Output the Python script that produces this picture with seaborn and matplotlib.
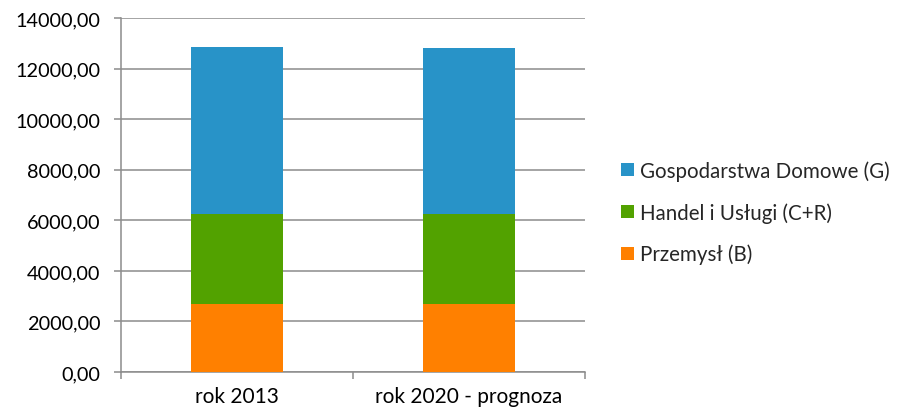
import matplotlib
matplotlib.use("Agg")
import matplotlib.pyplot as plt
import matplotlib.patches as mpatches
from matplotlib.ticker import FixedLocator, FuncFormatter
import numpy as np
import pandas as pd
import seaborn as sns

# Energy demand by sector (stacked)
categories = ["rok 2013", "rok 2020 - prognoza"]
przemysl = [2690, 2690]
handel = [3570, 3570]
gospodarstwa = [6590, 6570]

series_names = ["Gospodarstwa Domowe (G)", "Handel i Usługi (C+R)", "Przemysł (B)"]
colors = {"Gospodarstwa Domowe (G)": "#2893C8",
          "Handel i Usługi (C+R)": "#52A200",
          "Przemysł (B)": "#FF8000"}

sns.set_theme(style="white")
plt.rcParams["font.family"] = ["Lato", "DejaVu Sans"]

fig = plt.figure(figsize=(8.99, 4.14), dpi=100)
ax = fig.add_axes([0.1346, 0.099, 0.5161, 0.8545])

# cumulative heights, drawn from the tallest layer down
cum1 = np.array(przemysl)
cum2 = cum1 + np.array(handel)
cum3 = cum2 + np.array(gospodarstwa)
layers = [("Gospodarstwa Domowe (G)", cum3),
          ("Handel i Usługi (C+R)", cum2),
          ("Przemysł (B)", cum1)]
for name, vals in layers:
    df = pd.DataFrame({"kat": categories, "val": vals})
    sns.barplot(data=df, x="kat", y="val", color=colors[name], width=0.4,
                saturation=1, ax=ax, zorder=3, edgecolor="none")

ax.set_ylim(0, 14000)
ax.set_xlim(-0.5, 1.5)
ax.set_xlabel("")
ax.set_ylabel("")

grid_c = "#8C8C8C"
ax.yaxis.set_major_locator(FixedLocator(np.arange(0, 14001, 2000)))
ax.yaxis.set_major_formatter(FuncFormatter(lambda v, p: f"{v:.2f}".replace(".", ",")))
ax.grid(axis="y", color=grid_c, linewidth=1.1, zorder=0)
ax.set_axisbelow(True)

for s in ["top", "right"]:
    ax.spines[s].set_visible(False)
for s in ["left", "bottom"]:
    ax.spines[s].set_color(grid_c)
    ax.spines[s].set_linewidth(1.1)

ax.tick_params(axis="y", which="major", left=True, length=5, width=1.1,
               color=grid_c, labelsize=14.3, labelcolor="#000000", pad=10)
ax.set_xticks([0, 1])
ax.set_xticklabels(categories)
ax.xaxis.set_minor_locator(FixedLocator([-0.5, 0.5, 1.5]))
ax.tick_params(axis="x", which="major", bottom=False, length=0,
               labelsize=15, labelcolor="#000000", pad=10)
ax.tick_params(axis="x", which="minor", bottom=True, length=5, width=1.1,
               color=grid_c)

handles = [mpatches.Patch(facecolor=colors[n], edgecolor="none", label=n)
           for n in series_names]
fig.legend(handles=handles, loc="center left", bbox_to_anchor=(0.6908, 0.4845),
           frameon=False, fontsize=14.8, handlelength=0.63, handleheight=0.63,
           handletextpad=0.29, labelspacing=1.03, borderpad=0, borderaxespad=0)

fig.savefig("out.png", dpi=100)
